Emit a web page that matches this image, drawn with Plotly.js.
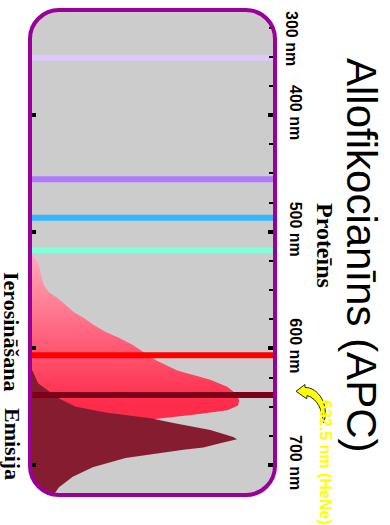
<!DOCTYPE html>
<html>
<head>
<meta charset="utf-8">
<script src="https://cdn.plot.ly/plotly-3.0.1.min.js"></script>
<style>
  html, body { margin: 0; padding: 0; background: #ffffff; }
  #chart { width: 390px; height: 525px; }
</style>
</head>
<body>
<div id="chart"></div>
<script>
// ---- data (wavelength in nm, relative intensity 0-100) ----
const excitationNm  = [520, 524, 529, 537, 546, 552, 557, 563, 569, 574, 580, 586, 591, 597, 603, 610, 619, 627, 633, 637, 644, 649, 653, 657, 661, 666, 670, 679, 691, 709, 724];
const excitationVal = [0.4, 1.7, 2.9, 3.7, 5.0, 7.0, 10.7, 14.0, 17.4, 21.5, 25.6, 30.6, 36.0, 41.7, 46.3, 51.2, 60.3, 74.0, 81.0, 83.5, 86.0, 85.5, 81.0, 67.0, 49.2, 35, 24, 12, 5, 2, 1];

const emissionNm  = [619, 630, 643, 650, 655, 660, 664, 670, 676, 678, 681, 685, 687, 690, 694, 702, 710, 719, 724];
const emissionVal = [0.2, 2.5, 11.2, 18.2, 30.6, 49.2, 58.7, 74.0, 83.5, 85.1, 78.9, 71.1, 62.8, 52.5, 38.8, 25.2, 16.9, 11.2, 9.5];

const laserNm     = [351, 455, 488, 516, 606, 640];
const laserColors = ['#dcc8fa', '#ae7bff', '#33b6ff', '#80ffd8', '#ff0000', '#7e0018'];

const tickNm     = [400, 500, 600, 700];
const tickLabels = ['400 nm', '500 nm', '600 nm', '700 nm'];

const titleText    = 'Allofikocianīns (APC)';
const subtitleText = 'Proteīns';
const excLabel     = 'Ierosināšana';
const emLabel      = 'Emisija';
const laserLabel   = '632.5 nm (HeNe)';
const firstTickLabel = '300 nm';

// ---- geometry helpers (pixel -> paper) ----
const W = 390, H = 525;
const M = {l: 32, r: 117, t: 12, b: 32};
const PW = W - M.l - M.r, PH = H - M.t - M.b;
const px = x => (x - M.l) / PW;
const py = y => 1 - (y - M.t) / PH;
const P = (x, y) => px(x).toFixed(5) + ' ' + py(y).toFixed(5);

function roundRect(x0, y0, x1, y1, r) {
  const k = 0.5523 * r;
  return 'M ' + P(x0 + r, y0) + ' L ' + P(x1 - r, y0) +
    ' C ' + P(x1 - r + k, y0) + ' ' + P(x1, y0 + r - k) + ' ' + P(x1, y0 + r) +
    ' L ' + P(x1, y1 - r) +
    ' C ' + P(x1, y1 - r + k) + ' ' + P(x1 - r + k, y1) + ' ' + P(x1 - r, y1) +
    ' L ' + P(x0 + r, y1) +
    ' C ' + P(x0 + r - k, y1) + ' ' + P(x0, y1 - r + k) + ' ' + P(x0, y1 - r) +
    ' L ' + P(x0, y0 + r) +
    ' C ' + P(x0, y0 + r - k) + ' ' + P(x0 + r - k, y0) + ' ' + P(x0 + r, y0) + ' Z';
}
function cornerMasks(x0, y0, x1, y1, r) {
  const k = 0.5523 * r, e = 5;
  return [
    'M ' + P(x0, y0 + r) + ' C ' + P(x0, y0 + r - k) + ' ' + P(x0 + r - k, y0) + ' ' + P(x0 + r, y0) +
      ' L ' + P(x0 + r, y0 - e) + ' L ' + P(x0 - e, y0 - e) + ' L ' + P(x0 - e, y0 + r) + ' Z',
    'M ' + P(x1 - r, y0) + ' C ' + P(x1 - r + k, y0) + ' ' + P(x1, y0 + r - k) + ' ' + P(x1, y0 + r) +
      ' L ' + P(x1 + e, y0 + r) + ' L ' + P(x1 + e, y0 - e) + ' L ' + P(x1 - r, y0 - e) + ' Z',
    'M ' + P(x1, y1 - r) + ' C ' + P(x1, y1 - r + k) + ' ' + P(x1 - r + k, y1) + ' ' + P(x1 - r, y1) +
      ' L ' + P(x1 - r, y1 + e) + ' L ' + P(x1 + e, y1 + e) + ' L ' + P(x1 + e, y1 - r) + ' Z',
    'M ' + P(x0 + r, y1) + ' C ' + P(x0 + r - k, y1) + ' ' + P(x0, y1 - r + k) + ' ' + P(x0, y1 - r) +
      ' L ' + P(x0 - e, y1 - r) + ' L ' + P(x0 - e, y1 + e) + ' L ' + P(x0 + r, y1 + e) + ' Z'
  ];
}

const BX0 = 30, BY0 = 10, BX1 = 275, BY1 = 495, BR = 29;

const arrowPath = 'M ' + P(296, 391.3) + ' L ' + P(305, 384.5) + ' L ' + P(305, 387.5) +
  ' C ' + P(318, 387) + ' ' + P(330, 405) + ' ' + P(323.5, 423) +
  ' C ' + P(322, 410) + ' ' + P(318, 399) + ' ' + P(307, 395.5) +
  ' L ' + P(306.7, 398.8) + ' Z';

// ---- traces ----
const traces = [];
traces.push({
  type: 'scatter', mode: 'lines', x: excitationVal, y: excitationNm,
  fill: 'tozerox', line: {color: 'rgba(0,0,0,0)', width: 0},
  fillgradient: {type: 'vertical', start: 525, stop: 648,
    colorscale: [[0, '#ffa6b5'], [0.45, '#ff6b85'], [1, '#ff2b4b']]},
  fillcolor: '#ff5573',
  hoverinfo: 'skip', showlegend: false
});
traces.push({
  type: 'scatter', mode: 'lines', x: emissionVal, y: emissionNm,
  fill: 'tozerox', line: {color: 'rgba(0,0,0,0)', width: 0},
  fillcolor: '#861c30', hoverinfo: 'skip', showlegend: false
});
laserNm.forEach((nm, i) => {
  traces.push({
    type: 'scatter', mode: 'lines', x: [0, 100], y: [nm, nm],
    line: {color: laserColors[i], width: 6}, hoverinfo: 'skip', showlegend: false
  });
});
traces.push({type: 'scatter', x: [], y: [], yaxis: 'y2', hoverinfo: 'skip', showlegend: false});

const yRange = [724, 311.7];
const sans = 'Liberation Sans, Arial, sans-serif';
const serif = 'Liberation Serif, Times New Roman, serif';

const layout = {
  width: W, height: H,
  margin: M,
  paper_bgcolor: '#ffffff',
  plot_bgcolor: 'rgba(0,0,0,0)',
  showlegend: false,
  xaxis: {range: [0, 100], showgrid: false, zeroline: false, showticklabels: false, ticks: '', showline: false, fixedrange: true},
  yaxis: {
    range: yRange, side: 'right', showgrid: false, zeroline: false, showline: false,
    tickmode: 'array', tickvals: tickNm, ticktext: tickLabels.map(t => '<b>' + t + '</b>'),
    ticks: 'inside', ticklen: 5, tickwidth: 4, tickcolor: '#000000',
    tickangle: 90, ticklabelstandoff: 13,
    tickfont: {family: sans, size: 16, color: '#000000'},
    minor: {dtick: 25, tick0: 300, ticks: 'inside', ticklen: 4, tickwidth: 2, tickcolor: '#000000', showgrid: false}
  },
  yaxis2: {
    range: yRange, overlaying: 'y', side: 'left', showgrid: false, zeroline: false, showline: false,
    tickmode: 'array', tickvals: tickNm, showticklabels: false,
    ticks: 'inside', ticklen: 4, tickwidth: 4, tickcolor: '#000000'
  },
  shapes: [
    {type: 'path', xref: 'paper', yref: 'paper', layer: 'below', path: roundRect(BX0, BY0, BX1, BY1, BR),
     fillcolor: '#cccccc', line: {width: 0}}
  ].concat(cornerMasks(BX0, BY0, BX1, BY1, BR).map(p => ({
     type: 'path', xref: 'paper', yref: 'paper', layer: 'above', path: p, fillcolor: '#ffffff', line: {width: 0}
  }))).concat([
    {type: 'path', xref: 'paper', yref: 'paper', layer: 'above', path: roundRect(BX0, BY0, BX1, BY1, BR),
     fillcolor: 'rgba(0,0,0,0)', line: {color: '#990099', width: 4}},
    {type: 'path', xref: 'paper', yref: 'paper', layer: 'above', path: arrowPath,
     fillcolor: '#ffff00', line: {color: '#222222', width: 1}}
  ]),
  annotations: [
    {text: titleText, xref: 'paper', yref: 'paper', x: px(362), y: py(255), xanchor: 'center', yanchor: 'middle',
     showarrow: false, textangle: 90, font: {family: sans, size: 42, color: '#000000'}},
    {text: '<b>' + subtitleText + '</b>', xref: 'paper', yref: 'paper', x: px(325), y: py(245), xanchor: 'center', yanchor: 'middle',
     showarrow: false, textangle: 90, font: {family: serif, size: 24, color: '#000000'}},
    {text: '<b>' + excLabel + '</b>', xref: 'paper', yref: 'paper', x: px(12), y: py(331), xanchor: 'center', yanchor: 'middle',
     showarrow: false, textangle: 90, font: {family: serif, size: 22, color: '#000000'}},
    {text: '<b>' + emLabel + '</b>', xref: 'paper', yref: 'paper', x: px(13), y: py(444), xanchor: 'center', yanchor: 'middle',
     showarrow: false, textangle: 90, font: {family: serif, size: 22, color: '#000000'}},
    {text: '<b>' + laserLabel + '</b>', xref: 'paper', yref: 'paper', x: px(326), y: py(462), xanchor: 'center', yanchor: 'middle',
     showarrow: false, textangle: 90, font: {family: sans, size: 16, color: '#ffff00'}},
    {text: '<b>' + firstTickLabel + '</b>', xref: 'paper', yref: 'paper', x: px(292), y: py(38), xanchor: 'center', yanchor: 'middle',
     showarrow: false, textangle: 90, font: {family: sans, size: 16, color: '#000000'}}
  ]
};

Plotly.newPlot('chart', traces, layout, {displayModeBar: false, staticPlot: true});
</script>
</body>
</html>
